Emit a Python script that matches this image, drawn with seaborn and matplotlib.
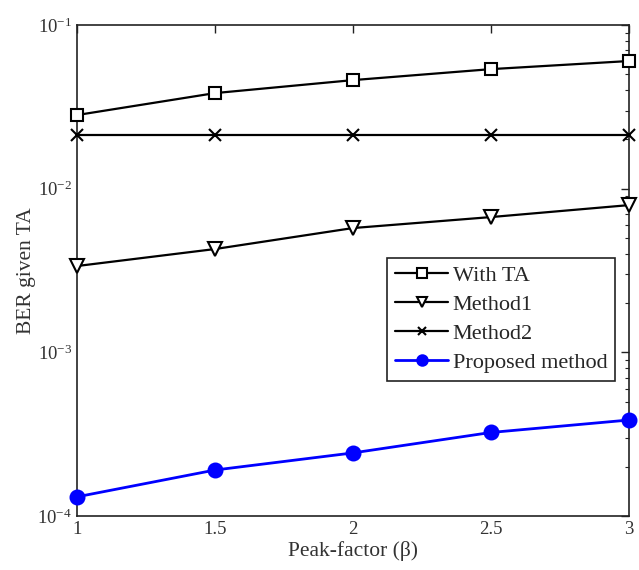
import numpy as np
import pandas as pd
import matplotlib
matplotlib.use("Agg")
import matplotlib.pyplot as plt
from matplotlib.ticker import LogLocator, FixedLocator, NullFormatter
import seaborn as sns

# data
beta = [1, 1.5, 2, 2.5, 3]
with_ta = [0.0282, 0.0384, 0.0461, 0.0538, 0.0603]
method1 = [0.00337, 0.00428, 0.00575, 0.00671, 0.00794]
method2 = [0.0213, 0.0213, 0.0213, 0.0213, 0.0213]
proposed = [1.31e-4, 1.91e-4, 2.43e-4, 3.24e-4, 3.86e-4]

sns.set_theme(style="white")
plt.rcParams['font.family'] = ['Liberation Serif', 'DejaVu Serif']
plt.rcParams['mathtext.fontset'] = 'stix'

fig = plt.figure(figsize=(6.39, 5.7), dpi=100)
ax = fig.add_axes([0.1205, 0.0947, 0.8635, 0.8613])

series = [
    ("With TA", with_ta, dict(marker="s", color="black", mfc="white", ms=9, lw=1.6)),
    ("Method1", method1, dict(marker="v", color="black", mfc="white", ms=10, lw=1.6)),
    ("Method2", method2, dict(marker="x", color="black", mfc="black", ms=8, lw=1.6)),
    ("Proposed method", proposed, dict(marker="o", color="blue", mfc="blue", ms=10, lw=2.0)),
]

for name, vals, st in series:
    df = pd.DataFrame({"beta": beta, "ber": vals})
    sns.lineplot(ax=ax, data=df, x="beta", y="ber", label=name,
                 color=st["color"], marker=st["marker"], markersize=st["ms"],
                 markerfacecolor=st["mfc"], markeredgecolor=st["color"],
                 markeredgewidth=1.5, linewidth=st["lw"], clip_on=False, zorder=3)

ax.set_yscale("log")
ax.set_ylim(1e-4, 1e-1)
ax.set_xlim(1, 3)
ax.set_xticks([1, 1.5, 2, 2.5, 3])
ax.set_xticklabels(["1", "1.5", "2", "2.5", "3"])
ax.yaxis.set_major_locator(FixedLocator([1e-4, 1e-3, 1e-2, 1e-1]))
ax.yaxis.set_minor_locator(LogLocator(base=10, subs=np.arange(2, 10)))
ax.yaxis.set_minor_formatter(NullFormatter())

ax.tick_params(which="both", direction="in", top=True, right=True,
               colors="#222222", labelcolor="#333333", labelsize=13.5)
ax.tick_params(which="major", length=6, width=1)
ax.tick_params(which="minor", length=3, width=0.8)
for sp in ax.spines.values():
    sp.set_color("#222222")
    sp.set_linewidth(1.2)

ax.set_xlabel("Peak-factor (β)", fontsize=15.5, color="#333333", labelpad=2)
ax.set_ylabel("BER given TA", fontsize=15.5, color="#333333", labelpad=1)

leg = ax.legend(loc="lower left", bbox_to_anchor=(0.562, 0.275), fontsize=16,
                frameon=True, fancybox=False, framealpha=1, edgecolor="#222222",
                borderpad=0.35, handlelength=2.4, handletextpad=0.2,
                labelspacing=0.38, markerscale=0.75, borderaxespad=0)
leg.get_frame().set_linewidth(1.2)

fig.savefig("out.png", dpi=100)
